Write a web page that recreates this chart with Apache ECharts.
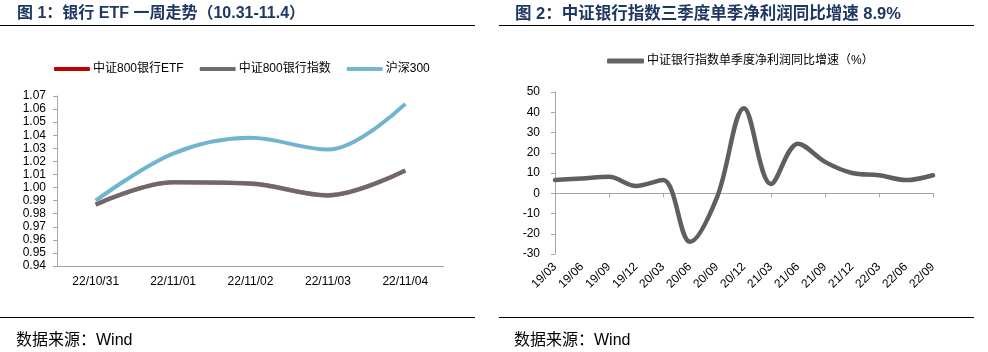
<!DOCTYPE html>
<html>
<head>
<meta charset="utf-8">
<script src="https://cdn.jsdelivr.net/npm/echarts@6/dist/echarts.min.js"></script>
<style>
  html, body { margin: 0; padding: 0; background: #fff; }
  #chart { width: 988px; height: 352px; }
</style>
</head>
<body>
<div id="chart"></div>
<script>
// 图1 数据
const days = ['22/10/31', '22/11/01', '22/11/02', '22/11/03', '22/11/04']
const etfValues = [0.987, 1.004, 1.003, 0.994, 1.013]
const indexValues = [0.987, 1.004, 1.003, 0.994, 1.013]
const hs300Values = [0.990, 1.026, 1.038, 1.029, 1.064]

// 图2 数据
const quarters = ['19/03', '19/06', '19/09', '19/12', '20/03', '20/06', '20/09', '20/12',
  '21/03', '21/06', '21/09', '21/12', '22/03', '22/06', '22/09']
const profitGrowth = [6.5, 7.3, 8.1, 3.6, 6.5, -24, -2, 42, 4.6, 24.5, 15.5, 10, 8.9, 6.5, 8.9]

const FONT = '"Liberation Sans", Arial, "Noto Sans CJK SC", sans-serif'
const TITLE_COLOR = '#1f3763'
const AXIS_COLOR = '#a6a6a6'

let chart = echarts.init(document.getElementById('chart'))

let option = {
  animation: false,
  textStyle: { fontFamily: FONT },
  title: [
    {
      text: '图 1：银行 ETF 一周走势（10.31-11.4）',
      left: 12, top: 1,
      textStyle: { fontSize: 16, fontWeight: 'bold', color: TITLE_COLOR, fontFamily: FONT },
    },
    {
      text: '图 2：中证银行指数三季度单季净利润同比增速 8.9%',
      left: 510, top: 1,
      textStyle: { fontSize: 16.5, fontWeight: 'bold', color: TITLE_COLOR, fontFamily: FONT },
    },
    {
      text: '数据来源：Wind',
      left: 11, top: 328,
      textStyle: { fontSize: 16, fontWeight: 'normal', color: '#000', fontFamily: FONT },
    },
    {
      text: '数据来源：Wind',
      left: 509, top: 328,
      textStyle: { fontSize: 16, fontWeight: 'normal', color: '#000', fontFamily: FONT },
    },
  ],
  graphic: [
    { type: 'line', shape: { x1: 0, y1: 25.5, x2: 475, y2: 25.5 }, style: { stroke: '#000', lineWidth: 1 } },
    { type: 'line', shape: { x1: 499, y1: 25.5, x2: 974, y2: 25.5 }, style: { stroke: '#000', lineWidth: 1 } },
    { type: 'line', shape: { x1: 0, y1: 317.5, x2: 475, y2: 317.5 }, style: { stroke: '#000', lineWidth: 1 } },
    { type: 'line', shape: { x1: 499, y1: 317.5, x2: 974, y2: 317.5 }, style: { stroke: '#000', lineWidth: 1 } },
  ],
  legend: [
    {
      data: ['中证800银行ETF', '中证800银行指数', '沪深300'],
      left: 49, top: 58,
      itemWidth: 36, itemHeight: 4, itemGap: 16,
      icon: 'roundRect',
      textStyle: { fontSize: 12, color: '#000', fontFamily: FONT, padding: [0, 0, 0, -2] },
    },
    {
      data: ['中证银行指数单季度净利润同比增速（%）'],
      left: 602, top: 50,
      itemWidth: 37, itemHeight: 5,
      icon: 'roundRect',
      textStyle: { fontSize: 12, color: '#000', fontFamily: FONT, padding: [0, 0, 0, -2] },
    },
  ],
  grid: [
    { left: 57, right: 544, top: 96, bottom: 86 },
    { left: 555, right: 55, top: 92, bottom: 98 },
  ],
  xAxis: [
    {
      gridIndex: 0,
      type: 'category',
      data: days,
      axisLine: { lineStyle: { color: AXIS_COLOR } },
      axisTick: { length: 4, lineStyle: { color: AXIS_COLOR } },
      axisLabel: { color: '#000', fontSize: 12, margin: 10 },
    },
    {
      // 标签在底部
      gridIndex: 1,
      type: 'category',
      data: quarters,
      boundaryGap: false,
      axisLine: { show: false, onZero: false },
      axisTick: { show: false },
      axisLabel: { color: '#000', fontSize: 12, rotate: 45, margin: 11 },
    },
    {
      // 零轴线
      gridIndex: 1,
      type: 'category',
      data: quarters,
      boundaryGap: false,
      position: 'bottom',
      axisLine: { onZero: true, lineStyle: { color: AXIS_COLOR } },
      axisTick: { length: 4, lineStyle: { color: AXIS_COLOR } },
      axisLabel: { show: false },
    },
  ],
  yAxis: [
    {
      gridIndex: 0,
      type: 'value',
      min: 0.94, max: 1.07, interval: 0.01,
      splitLine: { show: false },
      axisLine: { show: true, lineStyle: { color: AXIS_COLOR } },
      axisTick: { show: true, length: 4, lineStyle: { color: AXIS_COLOR } },
      axisLabel: { color: '#000', fontSize: 12, margin: 11, formatter: (v) => v.toFixed(2) },
    },
    {
      gridIndex: 1,
      type: 'value',
      min: -30, max: 50, interval: 10,
      splitLine: { show: false },
      axisLine: { show: true, lineStyle: { color: AXIS_COLOR } },
      axisTick: { show: true, length: 4, lineStyle: { color: AXIS_COLOR } },
      axisLabel: { color: '#000', fontSize: 12, margin: 15 },
    },
  ],
  series: [
    {
      name: '中证800银行ETF',
      type: 'line',
      xAxisIndex: 0, yAxisIndex: 0,
      data: etfValues,
      smooth: 0.35,
      showSymbol: false,
      color: '#c00000',
      lineStyle: { width: 4.6, color: '#c0504d', opacity: 0.8 },
      z: 2,
    },
    {
      name: '中证800银行指数',
      type: 'line',
      xAxisIndex: 0, yAxisIndex: 0,
      data: indexValues,
      smooth: 0.35,
      showSymbol: false,
      color: '#6e6e6e',
      lineStyle: { width: 4, color: '#6a6a6a' },
      z: 3,
    },
    {
      name: '沪深300',
      type: 'line',
      xAxisIndex: 0, yAxisIndex: 0,
      data: hs300Values,
      smooth: 0.35,
      showSymbol: false,
      color: '#76b8d2',
      lineStyle: { width: 4, color: '#72b4cf' },
      z: 3,
    },
    {
      name: '中证银行指数单季度净利润同比增速（%）',
      type: 'line',
      xAxisIndex: 1, yAxisIndex: 1,
      data: profitGrowth,
      smooth: 0.35,
      showSymbol: false,
      color: '#646464',
      lineStyle: { width: 4.5, color: '#5f5f5f', cap: 'round' },
      z: 3,
    },
  ],
}

chart.setOption(option)
</script>
</body>
</html>
